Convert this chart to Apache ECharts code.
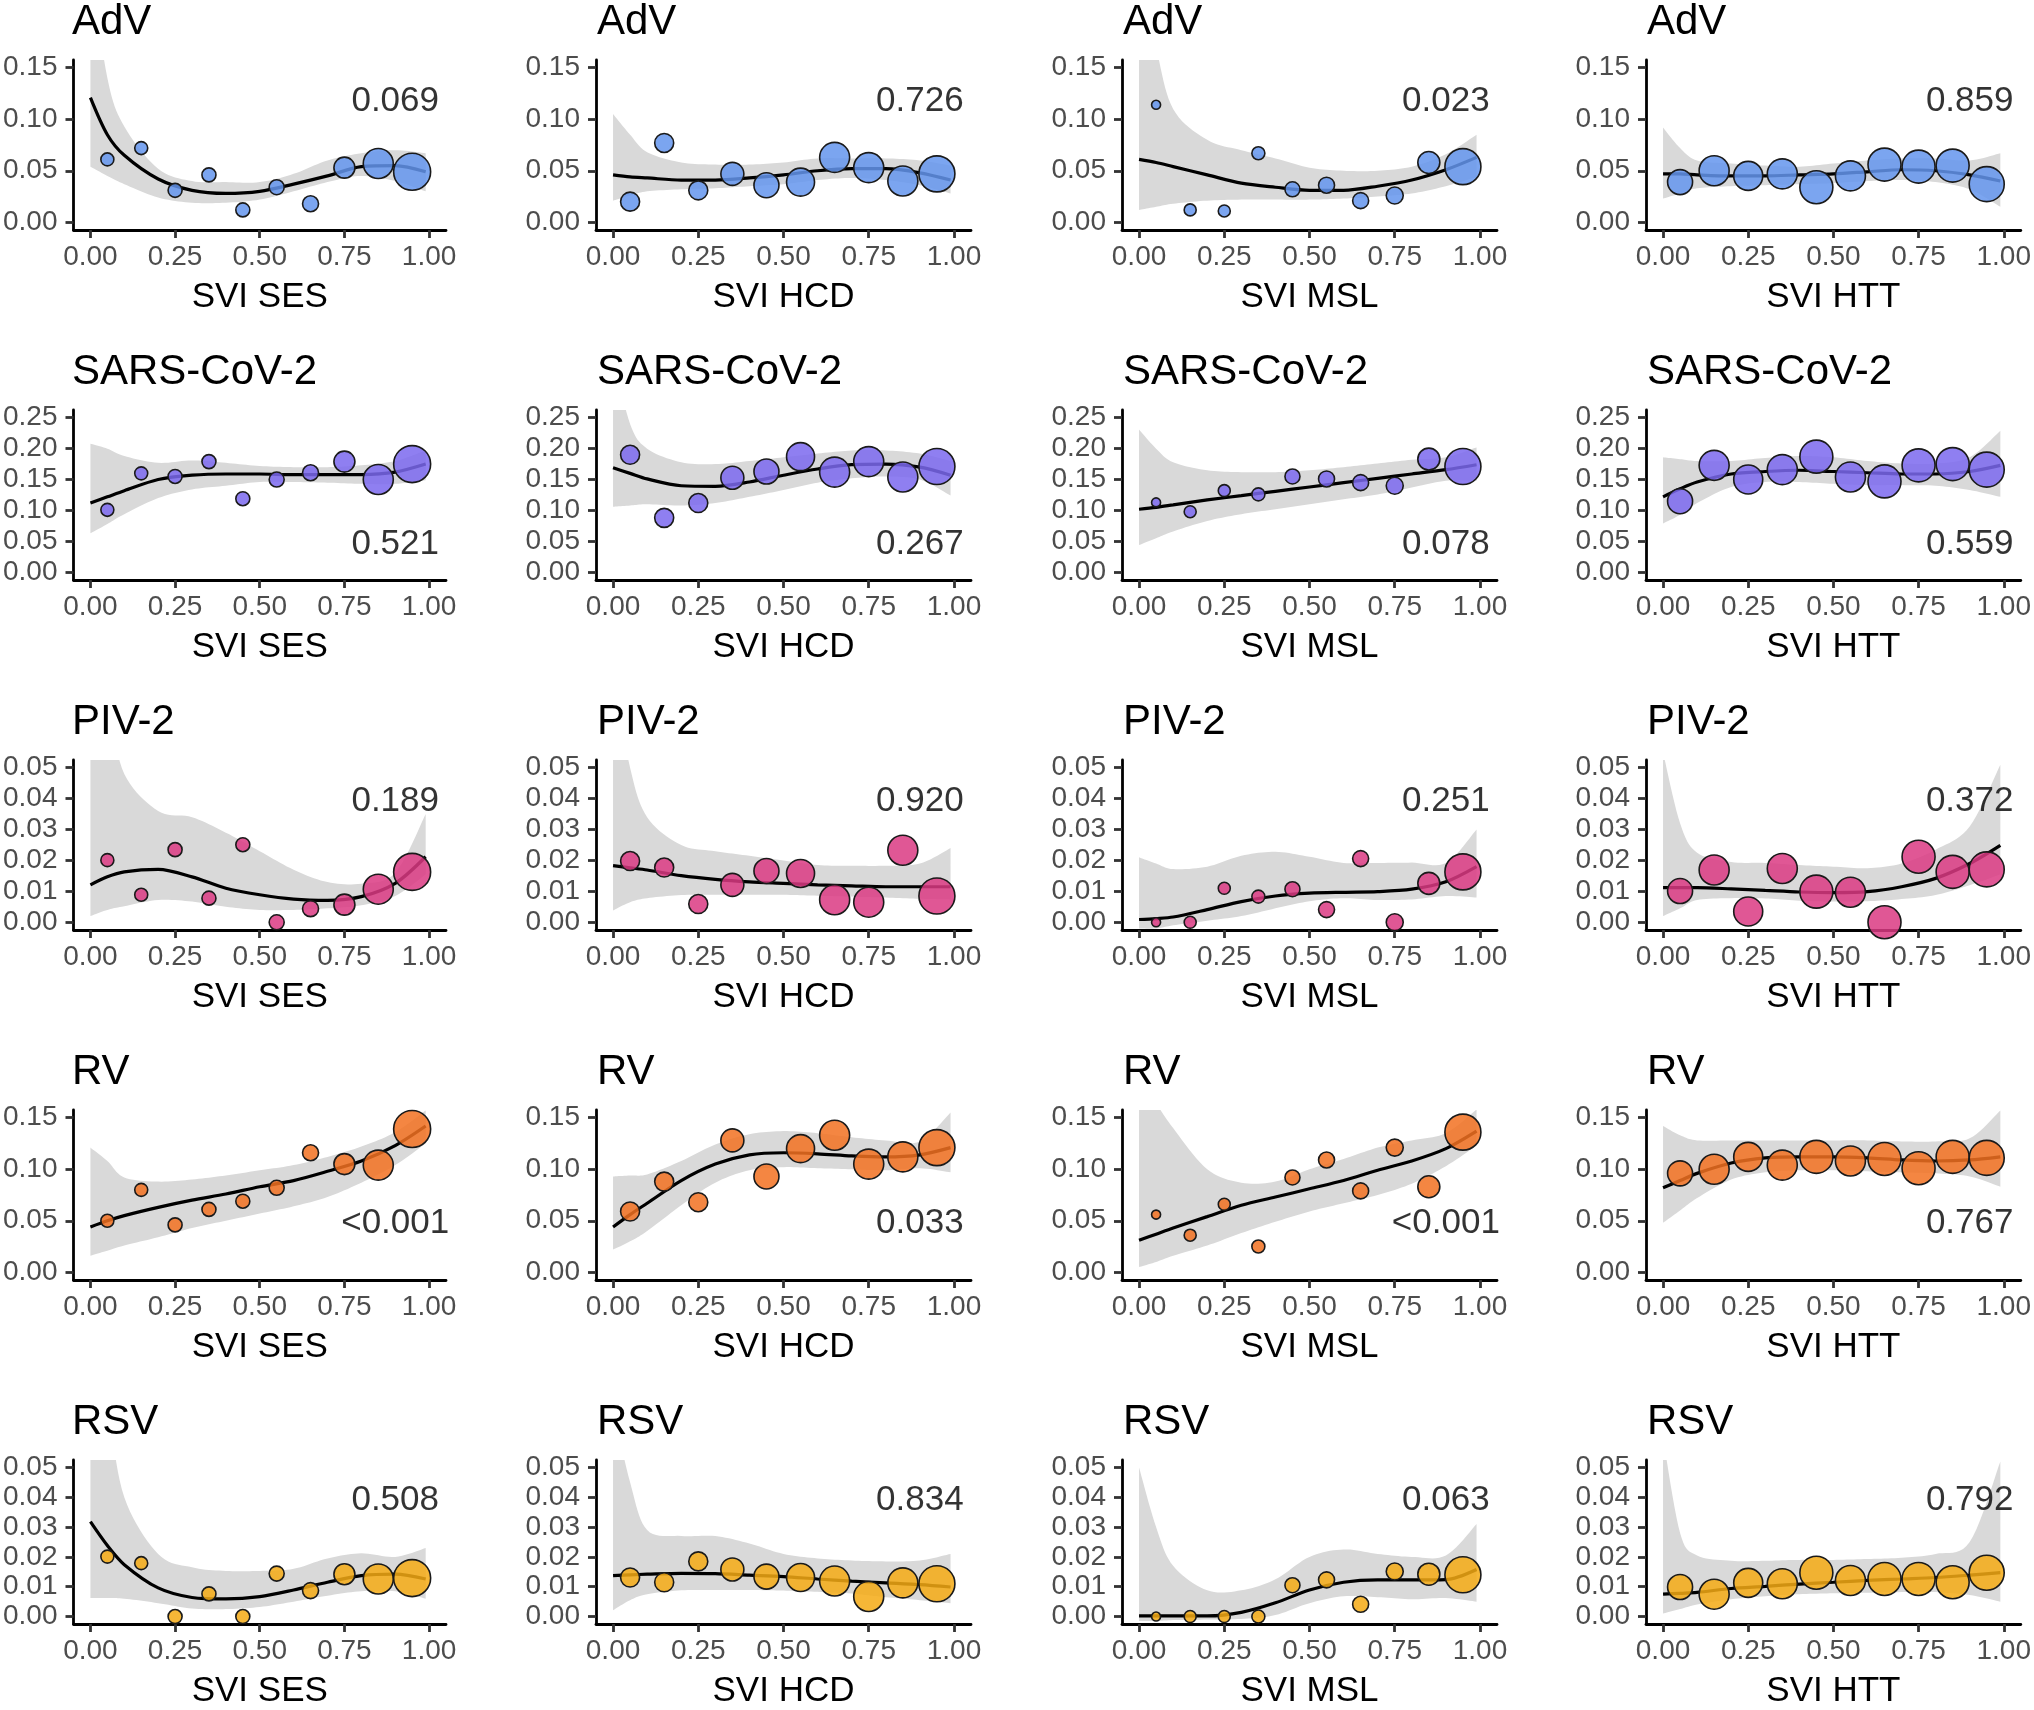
<!DOCTYPE html>
<html>
<head>
<meta charset="utf-8">
<script src="https://cdn.jsdelivr.net/npm/echarts@6/dist/echarts.min.js"></script>
<style>
  html, body { margin: 0; padding: 0; background: #fff; }
  #chart { width: 2034px; height: 1710px; }
</style>
</head>
<body>
<div id="chart"></div>
<script>
const binX = [0.05, 0.15, 0.25, 0.35, 0.45, 0.55, 0.65, 0.75, 0.85, 0.95];
const fitX = [0, 0.05, 0.1, 0.2, 0.3, 0.4, 0.5, 0.6, 0.7, 0.8, 0.9, 0.99];

const pathogens = ["AdV", "SARS-CoV-2", "PIV-2", "RV", "RSV"];
const sviNames = ["SVI SES", "SVI HCD", "SVI MSL", "SVI HTT"];
const xTicks = [0, 0.25, 0.5, 0.75, 1];
const yTicks = [
  [0, 0.05, 0.1, 0.15],
  [0, 0.05, 0.1, 0.15, 0.2, 0.25],
  [0, 0.01, 0.02, 0.03, 0.04, 0.05],
  [0, 0.05, 0.1, 0.15],
  [0, 0.01, 0.02, 0.03, 0.04, 0.05]
];
const pointColors = [
  "rgba(100,149,237,0.85)",
  "rgba(123,104,238,0.85)",
  "rgba(219,58,130,0.85)",
  "rgba(242,113,33,0.85)",
  "rgba(245,170,20,0.85)"
];

// point sizes (sample size per bin), same for every pathogen in a column
const sesSize = [13, 13, 14, 14, 14, 15, 16, 21, 30, 37];
const hcdSize = [19, 19, 19, 23, 25, 28, 30, 30, 30, 36];
const mslSize = [9, 12, 12, 13, 15, 16, 16, 17, 22, 36];
const httSize = [25, 30, 29, 30, 33, 30, 33, 33, 33, 35];

// p-values and the height they sit at
const advP = ["0.069", "0.726", "0.023", "0.859"];
const sarsP = ["0.521", "0.267", "0.078", "0.559"];
const pivP = ["0.189", "0.920", "0.251", "0.372"];
const rvP = ["<0.001", "0.033", "<0.001", "0.767"];
const rsvP = ["0.508", "0.834", "0.063", "0.792"];
const pLabelY = [0.12, 0.05, 0.04, 0.05, 0.04];

// AdV
const advY = [
  [0.061, 0.072, 0.031, 0.046, 0.012, 0.034, 0.018, 0.053, 0.057, 0.049],
  [0.020, 0.077, 0.031, 0.047, 0.036, 0.039, 0.063, 0.053, 0.040, 0.047],
  [0.114, 0.012, 0.011, 0.067, 0.032, 0.036, 0.021, 0.026, 0.058, 0.054],
  [0.039, 0.050, 0.045, 0.047, 0.034, 0.045, 0.056, 0.054, 0.055, 0.037]
];
const advFit = [
  [0.121, 0.085, 0.065, 0.042, 0.031, 0.028, 0.030, 0.037, 0.045, 0.054, 0.055, 0.049],
  [0.046, 0.044, 0.043, 0.041, 0.041, 0.043, 0.046, 0.050, 0.052, 0.052, 0.048, 0.041],
  [0.061, 0.058, 0.054, 0.046, 0.038, 0.034, 0.031, 0.031, 0.035, 0.041, 0.051, 0.063],
  [0.047, 0.047, 0.046, 0.045, 0.045, 0.046, 0.047, 0.049, 0.051, 0.050, 0.046, 0.040]
];
const advLo = [
  [0.054, 0.045, 0.037, 0.024, 0.019, 0.019, 0.022, 0.030, 0.039, 0.045, 0.040, 0.030],
  [0.021, 0.026, 0.030, 0.032, 0.033, 0.035, 0.037, 0.041, 0.043, 0.041, 0.036, 0.028],
  [0.012, 0.015, 0.018, 0.021, 0.022, 0.022, 0.022, 0.023, 0.025, 0.028, 0.035, 0.044],
  [0.023, 0.028, 0.033, 0.035, 0.036, 0.037, 0.038, 0.040, 0.041, 0.039, 0.032, 0.015]
];
const advHi = [
  [0.250, 0.140, 0.093, 0.052, 0.040, 0.039, 0.039, 0.047, 0.060, 0.067, 0.070, 0.067],
  [0.105, 0.085, 0.068, 0.058, 0.056, 0.056, 0.058, 0.062, 0.062, 0.062, 0.060, 0.055],
  [0.250, 0.170, 0.110, 0.080, 0.070, 0.062, 0.053, 0.050, 0.050, 0.054, 0.066, 0.085],
  [0.092, 0.072, 0.060, 0.057, 0.055, 0.054, 0.057, 0.060, 0.062, 0.062, 0.060, 0.067]
];

// SARS-CoV-2
const sarsY = [
  [0.101, 0.160, 0.155, 0.179, 0.119, 0.150, 0.161, 0.179, 0.150, 0.175],
  [0.190, 0.088, 0.112, 0.153, 0.163, 0.187, 0.162, 0.179, 0.154, 0.171],
  [0.113, 0.098, 0.132, 0.126, 0.155, 0.151, 0.145, 0.140, 0.183, 0.171],
  [0.115, 0.173, 0.150, 0.166, 0.187, 0.154, 0.147, 0.173, 0.175, 0.166]
];
const sarsFit = [
  [0.112, 0.122, 0.132, 0.150, 0.157, 0.159, 0.159, 0.158, 0.158, 0.158, 0.162, 0.175],
  [0.169, 0.160, 0.151, 0.140, 0.139, 0.146, 0.157, 0.167, 0.174, 0.175, 0.170, 0.157],
  [0.102, 0.105, 0.109, 0.117, 0.124, 0.131, 0.138, 0.145, 0.152, 0.159, 0.166, 0.174],
  [0.122, 0.135, 0.146, 0.159, 0.163, 0.165, 0.163, 0.161, 0.159, 0.159, 0.163, 0.173]
];
const sarsLo = [
  [0.063, 0.078, 0.094, 0.120, 0.134, 0.140, 0.146, 0.146, 0.145, 0.143, 0.143, 0.149],
  [0.106, 0.108, 0.110, 0.108, 0.112, 0.122, 0.133, 0.145, 0.152, 0.155, 0.150, 0.124],
  [0.044, 0.055, 0.066, 0.083, 0.094, 0.102, 0.110, 0.118, 0.126, 0.137, 0.148, 0.148],
  [0.079, 0.093, 0.112, 0.138, 0.146, 0.146, 0.143, 0.141, 0.141, 0.140, 0.133, 0.122]
];
const sarsHi = [
  [0.208, 0.200, 0.188, 0.177, 0.181, 0.177, 0.172, 0.170, 0.170, 0.173, 0.180, 0.197],
  [0.350, 0.240, 0.200, 0.178, 0.175, 0.180, 0.186, 0.192, 0.197, 0.197, 0.192, 0.180],
  [0.231, 0.200, 0.178, 0.165, 0.162, 0.162, 0.165, 0.170, 0.176, 0.182, 0.186, 0.202],
  [0.186, 0.183, 0.180, 0.180, 0.185, 0.188, 0.186, 0.180, 0.176, 0.176, 0.186, 0.229]
];

// PIV-2
const pivY = [
  [0.0201, 0.0089, 0.0235, 0.0078, 0.0251, 0.0000, 0.0044, 0.0057, 0.0107, 0.0163],
  [0.0198, 0.0177, 0.0059, 0.0121, 0.0166, 0.0158, 0.0073, 0.0065, 0.0233, 0.0085],
  [0.0000, 0.0000, 0.0110, 0.0083, 0.0107, 0.0041, 0.0206, 0.0000, 0.0126, 0.0163],
  [0.0101, 0.0169, 0.0035, 0.0174, 0.0099, 0.0097, 0.0000, 0.0212, 0.0163, 0.0171]
];
const pivFit = [
  [0.0121, 0.0147, 0.0163, 0.0171, 0.0147, 0.0110, 0.0089, 0.0075, 0.0071, 0.0083, 0.0126, 0.0212],
  [0.0183, 0.0176, 0.0169, 0.0151, 0.0139, 0.0131, 0.0126, 0.0121, 0.0118, 0.0115, 0.0115, 0.0115],
  [0.0009, 0.0012, 0.0017, 0.0041, 0.0067, 0.0085, 0.0094, 0.0097, 0.0099, 0.0107, 0.0131, 0.0180],
  [0.0112, 0.0112, 0.0112, 0.0108, 0.0103, 0.0098, 0.0096, 0.0099, 0.0115, 0.0142, 0.0190, 0.0249]
];
const pivLo = [
  [0.0020, 0.0040, 0.0052, 0.0072, 0.0067, 0.0050, 0.0040, 0.0040, 0.0045, 0.0055, 0.0085, 0.0155],
  [0.0038, 0.0065, 0.0078, 0.0088, 0.0089, 0.0089, 0.0089, 0.0086, 0.0083, 0.0080, 0.0076, 0.0074],
  [-0.0020, -0.0020, -0.0010, 0.0005, 0.0020, 0.0045, 0.0068, 0.0078, 0.0072, 0.0074, 0.0085, 0.0080],
  [0.0020, 0.0045, 0.0072, 0.0078, 0.0077, 0.0070, 0.0067, 0.0068, 0.0075, 0.0088, 0.0120, 0.0155]
];
const pivHi = [
  [0.0800, 0.0700, 0.0480, 0.0360, 0.0340, 0.0290, 0.0230, 0.0170, 0.0130, 0.0125, 0.0160, 0.0350],
  [0.0800, 0.0500, 0.0340, 0.0250, 0.0230, 0.0215, 0.0200, 0.0185, 0.0183, 0.0183, 0.0190, 0.0240],
  [0.0210, 0.0190, 0.0172, 0.0180, 0.0215, 0.0228, 0.0212, 0.0192, 0.0192, 0.0193, 0.0192, 0.0300],
  [0.0550, 0.0320, 0.0225, 0.0195, 0.0192, 0.0185, 0.0180, 0.0175, 0.0190, 0.0235, 0.0310, 0.0510]
];

// RV
const rvY = [
  [0.050, 0.080, 0.046, 0.061, 0.069, 0.082, 0.116, 0.105, 0.104, 0.139],
  [0.059, 0.088, 0.068, 0.128, 0.093, 0.120, 0.133, 0.105, 0.112, 0.121],
  [0.056, 0.036, 0.066, 0.025, 0.092, 0.109, 0.079, 0.121, 0.083, 0.136],
  [0.096, 0.100, 0.112, 0.104, 0.112, 0.108, 0.110, 0.101, 0.112, 0.111]
];
const rvFit = [
  [0.044, 0.050, 0.055, 0.063, 0.070, 0.076, 0.083, 0.089, 0.098, 0.108, 0.123, 0.142],
  [0.044, 0.056, 0.067, 0.089, 0.105, 0.114, 0.116, 0.115, 0.113, 0.112, 0.114, 0.121],
  [0.031, 0.037, 0.043, 0.054, 0.065, 0.073, 0.081, 0.089, 0.099, 0.108, 0.120, 0.137],
  [0.082, 0.089, 0.096, 0.106, 0.111, 0.112, 0.112, 0.111, 0.109, 0.108, 0.109, 0.112]
];
const rvLo = [
  [0.016, 0.021, 0.026, 0.034, 0.043, 0.050, 0.057, 0.064, 0.073, 0.087, 0.104, 0.125],
  [0.022, 0.030, 0.040, 0.065, 0.087, 0.099, 0.102, 0.101, 0.100, 0.099, 0.101, 0.097],
  [0.005, 0.010, 0.016, 0.026, 0.038, 0.049, 0.059, 0.067, 0.075, 0.086, 0.103, 0.123],
  [0.048, 0.060, 0.072, 0.090, 0.097, 0.099, 0.099, 0.098, 0.097, 0.096, 0.093, 0.083]
];
const rvHi = [
  [0.121, 0.108, 0.092, 0.088, 0.090, 0.094, 0.099, 0.104, 0.112, 0.122, 0.136, 0.157],
  [0.093, 0.094, 0.095, 0.108, 0.124, 0.134, 0.137, 0.135, 0.131, 0.128, 0.127, 0.155],
  [0.200, 0.165, 0.140, 0.100, 0.087, 0.088, 0.100, 0.110, 0.121, 0.128, 0.135, 0.158],
  [0.142, 0.133, 0.128, 0.128, 0.128, 0.128, 0.128, 0.128, 0.127, 0.127, 0.130, 0.157]
];

// RSV
const rsvY = [
  [0.0201, 0.0179, 0.0000, 0.0076, 0.0000, 0.0144, 0.0087, 0.0142, 0.0126, 0.0129],
  [0.0131, 0.0115, 0.0185, 0.0158, 0.0134, 0.0131, 0.0119, 0.0067, 0.0113, 0.0110],
  [0.0000, 0.0000, 0.0000, 0.0000, 0.0105, 0.0123, 0.0041, 0.0151, 0.0142, 0.0140],
  [0.0099, 0.0075, 0.0113, 0.0110, 0.0147, 0.0121, 0.0126, 0.0126, 0.0115, 0.0147]
];
const rsvFit = [
  [0.0318, 0.0238, 0.0174, 0.0096, 0.0064, 0.0059, 0.0067, 0.0089, 0.0115, 0.0137, 0.0142, 0.0126],
  [0.0137, 0.0140, 0.0142, 0.0145, 0.0144, 0.0139, 0.0134, 0.0126, 0.0119, 0.0113, 0.0107, 0.0099],
  [0.0002, 0.0002, 0.0002, 0.0002, 0.0014, 0.0046, 0.0089, 0.0115, 0.0123, 0.0123, 0.0124, 0.0158],
  [0.0075, 0.0078, 0.0081, 0.0094, 0.0101, 0.0109, 0.0115, 0.0121, 0.0126, 0.0131, 0.0139, 0.0147]
];
const rsvLo = [
  [0.0062, 0.0062, 0.0060, 0.0045, 0.0027, 0.0025, 0.0032, 0.0050, 0.0070, 0.0085, 0.0085, 0.0060],
  [0.0021, 0.0055, 0.0075, 0.0088, 0.0089, 0.0089, 0.0087, 0.0083, 0.0077, 0.0065, 0.0055, 0.0045],
  [-0.0015, -0.0015, -0.0012, -0.0010, -0.0008, 0.0005, 0.0045, 0.0068, 0.0065, 0.0058, 0.0062, 0.0050],
  [0.0010, 0.0025, 0.0040, 0.0058, 0.0068, 0.0075, 0.0078, 0.0080, 0.0082, 0.0082, 0.0072, 0.0050]
];
const rsvHi = [
  [0.0900, 0.0700, 0.0400, 0.0210, 0.0165, 0.0153, 0.0153, 0.0160, 0.0195, 0.0212, 0.0200, 0.0230],
  [0.0700, 0.0450, 0.0290, 0.0270, 0.0270, 0.0245, 0.0210, 0.0195, 0.0188, 0.0185, 0.0188, 0.0210],
  [0.0500, 0.0300, 0.0170, 0.0088, 0.0088, 0.0125, 0.0200, 0.0225, 0.0210, 0.0200, 0.0205, 0.0310],
  [0.0600, 0.0280, 0.0205, 0.0187, 0.0187, 0.0190, 0.0190, 0.0193, 0.0197, 0.0210, 0.0250, 0.0520]
];

const rowY = [advY, sarsY, pivY, rvY, rsvY];
const rowFit = [advFit, sarsFit, pivFit, rvFit, rsvFit];
const rowLo = [advLo, sarsLo, pivLo, rvLo, rsvLo];
const rowHi = [advHi, sarsHi, pivHi, rvHi, rsvHi];
const rowP = [advP, sarsP, pivP, rvP, rsvP];
const colSize = [sesSize, hcdSize, mslSize, httSize];

// layout
const font = "Liberation Sans, Arial, sans-serif";
const colLeft = [71, 596, 1122, 1646];
const rowTop = 60, rowStep = 350, panelW = 375, panelH = 170;

// smooth one edge of the band in pixel space (catmull-rom, drawn as short segments)
function smoothEdge(pts) {
  const out = [pts[0]];
  for (let k = 0; k < pts.length - 1; k++) {
    const p0 = pts[Math.max(k - 1, 0)], p1 = pts[k], p2 = pts[k + 1], p3 = pts[Math.min(k + 2, pts.length - 1)];
    const c1 = [p1[0] + (p2[0] - p0[0]) / 6, p1[1] + (p2[1] - p0[1]) / 6];
    const c2 = [p2[0] - (p3[0] - p1[0]) / 6, p2[1] - (p3[1] - p1[1]) / 6];
    for (let s = 1; s <= 10; s++) {
      const t = s / 10, u = 1 - t;
      out.push([
        u * u * u * p1[0] + 3 * u * u * t * c1[0] + 3 * u * t * t * c2[0] + t * t * t * p2[0],
        u * u * u * p1[1] + 3 * u * u * t * c1[1] + 3 * u * t * t * c2[1] + t * t * t * p2[1]
      ]);
    }
  }
  return out;
}

// band: one polygon per panel, upper edge forward then lower edge back
function renderBand(params, api) {
  if (params.dataIndexInside !== 0) return null;
  const n = params.dataInsideLength;
  const top = [], bottom = [];
  for (let k = 0; k < n; k++) {
    const x = api.value(0, k);
    top.push(api.coord([x, api.value(2, k)]));
    bottom.push(api.coord([x, api.value(1, k)]));
  }
  return {
    type: "polygon",
    shape: { points: smoothEdge(top).concat(smoothEdge(bottom).reverse()) },
    style: { fill: "#d9d9d9" }
  };
}

const grids = [], xAxes = [], yAxes = [], titles = [], series = [];

for (let r = 0; r < 5; r++) {
  const ymax = yTicks[r][yTicks[r].length - 1];
  for (let c = 0; c < 4; c++) {
    const i = r * 4 + c;
    grids.push({ left: colLeft[c], top: rowTop + rowStep * r, width: panelW, height: panelH });
    titles.push({
      text: pathogens[r], left: colLeft[c] + 1, top: rowStep * r + 1, padding: 0,
      textStyle: { fontSize: 42, fontWeight: "normal", color: "#000", fontFamily: font }
    });
    xAxes.push({
      gridIndex: i, type: "value", min: -0.05, max: 1.05,
      name: sviNames[c], nameLocation: "middle", nameGap: 50,
      nameTextStyle: { fontSize: 35, color: "#000", fontFamily: font },
      axisLine: { show: true, onZero: false, lineStyle: { color: "#000", width: 2.8 } },
      axisTick: { show: true, length: 8, customValues: xTicks, lineStyle: { color: "#333", width: 2.8 } },
      axisLabel: { customValues: xTicks, formatter: (v) => v.toFixed(2), fontSize: 28, color: "#4d4d4d", fontFamily: font, margin: 13 },
      splitLine: { show: false }
    });
    yAxes.push({
      gridIndex: i, type: "value", min: -ymax * 0.05, max: ymax * 1.05,
      axisLine: { show: true, onZero: false, lineStyle: { color: "#000", width: 2.8 } },
      axisTick: { show: true, length: 8, customValues: yTicks[r], lineStyle: { color: "#333", width: 2.8 } },
      axisLabel: { customValues: yTicks[r], formatter: (v) => v.toFixed(2), fontSize: 28, color: "#4d4d4d", fontFamily: font, margin: 16 },
      splitLine: { show: false }
    });

    const lo = rowLo[r][c], hi = rowHi[r][c];
    const common = { xAxisIndex: i, yAxisIndex: i, silent: true, animation: false };
    // confidence band
    series.push(Object.assign({}, common, {
      type: "custom", renderItem: renderBand, clip: true, z: 1,
      encode: { x: 0, y: [1, 2] },
      data: fitX.map((x, k) => [x, lo[k], hi[k]])
    }));
    // smooth fit
    series.push(Object.assign({}, common, {
      type: "line", smooth: 0.3, symbol: "none", z: 2,
      lineStyle: { color: "#000", width: 3.2 },
      data: fitX.map((x, k) => [x, rowFit[r][c][k]])
    }));
    // binned points
    series.push(Object.assign({}, common, {
      type: "scatter", z: 3,
      symbolSize: (d) => d[2],
      itemStyle: { color: pointColors[r], borderColor: "#1a1a1a", borderWidth: 1.6, opacity: 1 },
      data: binX.map((x, k) => [x, rowY[r][c][k], colSize[c][k]])
    }));
    // p-value
    series.push(Object.assign({}, common, {
      type: "scatter", z: 4, symbolSize: 1,
      itemStyle: { color: "rgba(0,0,0,0)" },
      label: { show: true, position: "inside", offset: [0, 3], formatter: rowP[r][c], fontSize: 35, color: "#000", fontFamily: font },
      data: [[0.9, pLabelY[r]]]
    }));
  }
}

const chart = echarts.init(document.getElementById("chart"), null, { renderer: "canvas" });
chart.setOption({
  backgroundColor: "#fff",
  animation: false,
  title: titles,
  grid: grids,
  xAxis: xAxes,
  yAxis: yAxes,
  series: series
});
</script>
</body>
</html>
